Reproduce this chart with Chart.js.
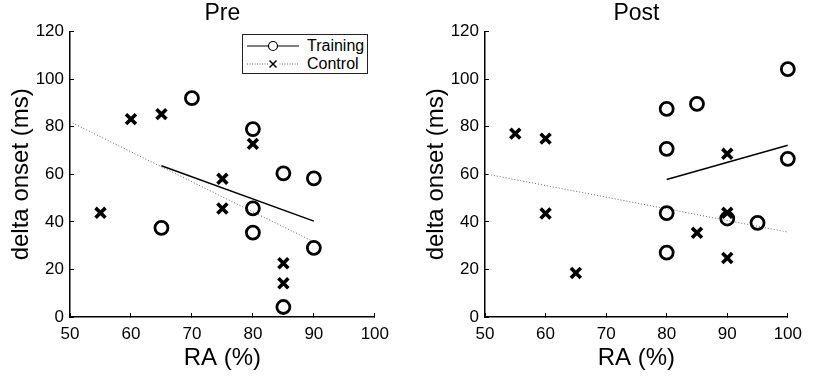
<!DOCTYPE html>
<html>
<head>
<meta charset="utf-8">
<script src="https://cdn.jsdelivr.net/npm/chart.js@4.4.1/dist/chart.umd.min.js"></script>
<style>
body{margin:0;background:#fff;width:813px;height:376px;overflow:hidden;position:relative;font-family:"Liberation Sans",Arial,sans-serif;}
canvas{position:absolute;top:0;}
#preChart{left:0;}
#postChart{left:415px;}
.legend{position:absolute;left:242px;top:34px;width:124px;height:38px;border:1.5px solid #222;background:#fff;font-size:16px;color:#000;}
.legend .row{position:absolute;left:0;height:20px;line-height:20px;}
.legend svg{position:absolute;left:2px;top:0;}
.legend span{position:absolute;left:64px;white-space:nowrap;}
</style>
</head>
<body>

<canvas id="preChart" width="400" height="376"></canvas>
<canvas id="postChart" width="398" height="376"></canvas>

<div class="legend">
    <div class="row" style="top:1px;">
        <svg width="56" height="20"><line x1="2" y1="10" x2="54" y2="10" stroke="#000" stroke-width="1.2"/><circle cx="28" cy="10" r="4.5" fill="#fff" stroke="#000" stroke-width="1.2"/></svg>
        <span>Training</span>
    </div>
    <div class="row" style="top:19px;">
        <svg width="56" height="20"><line x1="2" y1="10" x2="54" y2="10" stroke="#666" stroke-width="1" stroke-dasharray="1,1.5"/><rect x="23" y="5" width="10" height="10" fill="#fff"/><path d="M24.5 6.5 L31.5 13.5 M31.5 6.5 L24.5 13.5" stroke="#000" stroke-width="1.5"/></svg>
        <span>Control</span>
    </div>
</div>

<script>

let xTicks = [50, 60, 70, 80, 90, 100];
let yTicks = [0, 20, 40, 60, 80, 100, 120];

// Pre
let preTrainingRA = [65, 70, 80, 80, 80, 85, 85, 90, 90];
let preTrainingDelta = [37.5, 92, 79, 45.7, 35.5, 60.4, 4.2, 58.3, 29.1];

let preControlRA = [55, 60, 65, 75, 75, 80, 85, 85];
let preControlDelta = [43.8, 83.2, 85.3, 58.1, 45.6, 72.8, 22.6, 14.2];

let preTrainingFitRA = [65, 90];
let preTrainingFitDelta = [63.6, 40.3];

let preControlFitRA = [50, 90];
let preControlFitDelta = [82.1, 31.6];

// Post
let postTrainingRA = [80, 80, 80, 80, 85, 90, 95, 100, 100];
let postTrainingDelta = [87.5, 70.7, 43.7, 27.1, 89.6, 41.4, 39.6, 104.2, 66.5];

let postControlRA = [55, 60, 60, 65, 85, 90, 90, 90];
let postControlDelta = [77.1, 75, 43.5, 18.5, 35.4, 68.6, 43.8, 24.8];

let postTrainingFitRA = [80, 100];
let postTrainingFitDelta = [57.8, 72.2];

let postControlFitRA = [50, 100];
let postControlFitDelta = [60.2, 35.7];

Chart.defaults.font.family = "'Liberation Sans', Arial, sans-serif";
Chart.defaults.color = "#000";

function toPoints(xs, ys){

    return xs.map((x, i) => ({ x: x, y: ys[i] }));

}

function makeChart(id, title, rightPad, trainRA, trainDelta, ctrlRA, ctrlDelta, trainFitRA, trainFitDelta, ctrlFitRA, ctrlFitDelta){

    return new Chart(

    document.getElementById(id),

    {

        type: "scatter",

        data: {

            datasets: [

            {
                label: "Training",
                data: toPoints(trainRA, trainDelta),
                pointStyle: "circle",
                pointRadius: 6.5,
                pointBorderWidth: 2.8,
                pointBorderColor: "#000",
                pointBackgroundColor: "rgba(0,0,0,0)",
                clip: false
            },

            {
                label: "Control",
                data: toPoints(ctrlRA, ctrlDelta),
                pointStyle: "crossRot",
                pointRadius: 7,
                pointBorderWidth: 3.6,
                pointBorderColor: "#000",
                clip: false
            },

            {
                label: "Training fit",
                type: "line",
                data: toPoints(trainFitRA, trainFitDelta),
                borderColor: "#000",
                borderWidth: 1.5,
                pointRadius: 0,
                fill: false
            },

            {
                label: "Control fit",
                type: "line",
                data: toPoints(ctrlFitRA, ctrlFitDelta),
                borderColor: "#666",
                borderWidth: 1,
                borderDash: [1, 2],
                pointRadius: 0,
                fill: false
            }

            ]

        },

        options: {

            responsive: false,
            animation: false,

            layout: {
                padding: { left: 0, right: rightPad, top: 0, bottom: 0 }
            },

            plugins: {

                legend: { display: false },
                tooltip: { enabled: false },

                title: {
                    display: true,
                    text: title,
                    fullSize: false,
                    color: "#000",
                    font: { size: 23, weight: "normal" },
                    padding: { top: 0, bottom: 4 }
                }

            },

            scales: {

                x: {
                    type: "linear",
                    min: 50,
                    max: 100,
                    afterBuildTicks: s => { s.ticks = xTicks.map(v => ({ value: v })); },
                    afterFit: s => { s.height = 59; },
                    border: { color: "#000", width: 1.5 },
                    grid: { drawOnChartArea: false, drawTicks: true, tickLength: -4, color: "#000", lineWidth: 1 },
                    ticks: { color: "#000", font: { size: 17 }, padding: 11, maxRotation: 0 },
                    title: { display: true, text: "RA (%)", color: "#000", font: { size: 24 }, padding: { top: 0, bottom: 3 } }
                },

                y: {
                    type: "linear",
                    min: 0,
                    max: 120,
                    afterBuildTicks: s => { s.ticks = yTicks.map(v => ({ value: v })); },
                    afterFit: s => { s.width = 70; },
                    border: { color: "#000", width: 1.5 },
                    grid: { drawOnChartArea: false, drawTicks: true, tickLength: -4, color: "#000", lineWidth: 1 },
                    ticks: { color: "#000", font: { size: 17 }, padding: 10 },
                    title: { display: true, text: "delta onset (ms)", color: "#000", font: { size: 24 }, padding: { top: 7, bottom: 0 } }
                }

            }

        }

    });

}

makeChart(
"preChart", "Pre", 23,
preTrainingRA, preTrainingDelta,
preControlRA, preControlDelta,
preTrainingFitRA, preTrainingFitDelta,
preControlFitRA, preControlFitDelta
);

makeChart(
"postChart", "Post", 22,
postTrainingRA, postTrainingDelta,
postControlRA, postControlDelta,
postTrainingFitRA, postTrainingFitDelta,
postControlFitRA, postControlFitDelta
);

</script>
</body>
</html>
